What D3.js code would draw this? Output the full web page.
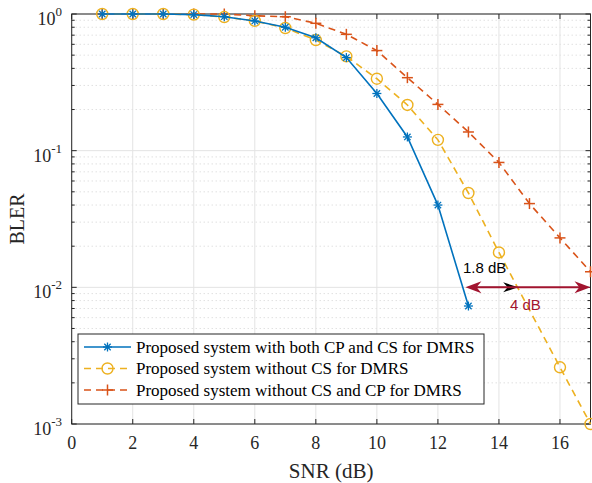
<!DOCTYPE html>
<head>
    <meta charset="utf-8">
    <script src="https://d3js.org/d3.v7.min.js"></script>
    <style>
        body { margin: 0; background: #fff; }
        text { font-family: "Liberation Serif", "Times New Roman", serif; fill: #262626; }
    </style>
</head>
<body>
    <svg width="592" height="483"></svg>
    <script>
        // data
        var snrBoth = [1, 2, 3, 4, 5, 6, 7, 8, 9, 10, 11, 12, 13];
        var blerBoth = [1, 1, 1, 0.99, 0.955, 0.89, 0.80, 0.67, 0.48, 0.262, 0.126, 0.040, 0.0073];
        var snrNoCS = [1, 2, 3, 4, 5, 6, 7, 8, 9, 10, 11, 12, 13, 14, 16, 17];
        var blerNoCS = [1, 1, 1, 0.99, 0.95, 0.89, 0.79, 0.645, 0.49, 0.336, 0.216, 0.12, 0.049, 0.018, 0.0026, 0.001];
        var snrNone = [1, 2, 3, 4, 5, 6, 7, 8, 9, 10, 11, 12, 13, 14, 15, 16, 17];
        var blerNone = [1, 1, 1, 1, 1, 0.97, 0.955, 0.855, 0.71, 0.54, 0.342, 0.218, 0.137, 0.082, 0.041, 0.023, 0.013];
        var legendNames = ["Proposed system with both CP and CS for DMRS",
            "Proposed system without CS for DMRS",
            "Proposed system without CS and CP for DMRS"];
        var xTicks = [0, 2, 4, 6, 8, 10, 12, 14, 16];
        var yTicks = [1, 0.1, 0.01, 0.001];
        var yExps = ["0", "-1", "-2", "-3"];
        // annotation: gaps at BLER = 1e-2
        var gapLevel = 0.01;
        var gapBlack = [13, 14.63];
        var gapRed = [13, 17];

        var svg = d3.select("svg");
        var pLeft = 71.7, pRight = 590.5, pTop = 14, pBottom = 424;
        var x = d3.scaleLinear().domain([0, 17]).range([pLeft, pRight]);
        var y = d3.scaleLog().domain([0.001, 1]).range([pBottom, pTop]);

        var blue = "#0072BD", yellow = "#EDB120", red = "#D95319", dark = "#A2142F";

        // grid
        var minor = [];
        [0.001, 0.01, 0.1].forEach(function (d) {
            for (var k = 2; k <= 9; k++) minor.push(d * k);
        });
        var grid = svg.append("g");
        grid.selectAll(".mg").data(minor).enter().append("line")
            .attr("x1", pLeft).attr("x2", pRight)
            .attr("y1", d => y(d)).attr("y2", d => y(d))
            .attr("stroke", "#c8c8c8").attr("stroke-width", 0.8)
            .attr("stroke-dasharray", "1,3");
        grid.selectAll(".xg").data(xTicks).enter().append("line")
            .attr("x1", d => x(d)).attr("x2", d => x(d))
            .attr("y1", pTop).attr("y2", pBottom)
            .attr("stroke", "#e3e3e3").attr("stroke-width", 1);
        grid.selectAll(".yg").data(yTicks).enter().append("line")
            .attr("x1", pLeft).attr("x2", pRight)
            .attr("y1", d => y(d)).attr("y2", d => y(d))
            .attr("stroke", "#e3e3e3").attr("stroke-width", 1);

        // axes box and ticks
        var ax = svg.append("g").attr("stroke", "#262626").attr("stroke-width", 1);
        ax.append("rect").attr("x", pLeft).attr("y", pTop)
            .attr("width", pRight - pLeft).attr("height", pBottom - pTop)
            .attr("fill", "none");
        xTicks.forEach(function (d) {
            ax.append("line").attr("x1", x(d)).attr("x2", x(d)).attr("y1", pBottom).attr("y2", pBottom - 5);
            ax.append("line").attr("x1", x(d)).attr("x2", x(d)).attr("y1", pTop).attr("y2", pTop + 5);
        });
        yTicks.forEach(function (d) {
            ax.append("line").attr("x1", pLeft).attr("x2", pLeft + 5).attr("y1", y(d)).attr("y2", y(d));
            ax.append("line").attr("x1", pRight).attr("x2", pRight - 5).attr("y1", y(d)).attr("y2", y(d));
        });
        minor.forEach(function (d) {
            ax.append("line").attr("x1", pLeft).attr("x2", pLeft + 3).attr("y1", y(d)).attr("y2", y(d));
            ax.append("line").attr("x1", pRight).attr("x2", pRight - 3).attr("y1", y(d)).attr("y2", y(d));
        });

        // tick labels
        svg.append("g").selectAll("text").data(xTicks).enter().append("text")
            .attr("x", d => x(d)).attr("y", 449)
            .attr("text-anchor", "middle").attr("font-size", 18)
            .text(d => d);
        var yl = svg.append("g").selectAll("text").data(yTicks).enter().append("text")
            .attr("x", 62).attr("y", d => y(d) + 11)
            .attr("text-anchor", "end").attr("font-size", 18);
        yl.append("tspan").text("10");
        yl.append("tspan").attr("dy", -9).attr("font-size", 13).text((d, i) => yExps[i]);

        svg.append("text").attr("x", (pLeft + pRight) / 2).attr("y", 478)
            .attr("text-anchor", "middle").attr("font-size", 21).text("SNR (dB)");
        svg.append("text").attr("transform", "translate(24,219) rotate(-90)")
            .attr("text-anchor", "middle").attr("font-size", 20).text("BLER");

        // curves
        var line = d3.line().x(d => x(d[0])).y(d => y(d[1]));

        function star(g, cx, cy, c) {
            var r = 4.5;
            for (var a = 0; a < 180; a += 45) {
                var t = a * Math.PI / 180;
                g.append("line").attr("x1", cx - r * Math.cos(t)).attr("y1", cy - r * Math.sin(t))
                    .attr("x2", cx + r * Math.cos(t)).attr("y2", cy + r * Math.sin(t))
                    .attr("stroke", c).attr("stroke-width", 1.3);
            }
        }
        function plus(g, cx, cy, c) {
            var r = 5.5;
            g.append("line").attr("x1", cx - r).attr("x2", cx + r).attr("y1", cy).attr("y2", cy)
                .attr("stroke", c).attr("stroke-width", 1.5);
            g.append("line").attr("x1", cx).attr("x2", cx).attr("y1", cy - r).attr("y2", cy + r)
                .attr("stroke", c).attr("stroke-width", 1.5);
        }
        function circ(g, cx, cy, c) {
            g.append("circle").attr("cx", cx).attr("cy", cy).attr("r", 5.5)
                .attr("fill", "none").attr("stroke", c).attr("stroke-width", 1.4);
        }

        var series = [
            { xs: snrNone, ys: blerNone, c: red, dash: "7,5", mk: plus },
            { xs: snrNoCS, ys: blerNoCS, c: yellow, dash: "7,5", mk: circ },
            { xs: snrBoth, ys: blerBoth, c: blue, dash: null, mk: star }
        ];
        var plot = svg.append("g");
        series.forEach(function (s) {
            var pts = d3.zip(s.xs, s.ys);
            plot.append("path").datum(pts).attr("d", line)
                .attr("fill", "none").attr("stroke", s.c).attr("stroke-width", 1.6)
                .attr("stroke-dasharray", s.dash);
            var g = plot.append("g");
            pts.forEach(p => s.mk(g, x(p[0]), y(p[1]), s.c));
        });

        // annotations
        function head(g, tipX, tipY, dir, len, wid, c) {
            var back = tipX - dir * len, notch = tipX - dir * len * 0.7;
            g.append("path")
                .attr("d", "M" + tipX + "," + tipY + "L" + back + "," + (tipY - wid / 2) +
                    "L" + notch + "," + tipY + "L" + back + "," + (tipY + wid / 2) + "Z")
                .attr("fill", c);
        }
        var ann = svg.append("g");
        var ly = y(gapLevel);
        ann.append("line").attr("x1", x(gapBlack[0])).attr("x2", x(gapBlack[1]) - 6)
            .attr("y1", ly).attr("y2", ly).attr("stroke", "#000").attr("stroke-width", 1);
        head(ann, x(gapBlack[1]), ly, 1, 15, 10, "#000");
        ann.append("line").attr("x1", x(gapRed[0]) + 8).attr("x2", x(gapRed[1]) - 8)
            .attr("y1", ly).attr("y2", ly).attr("stroke", dark).attr("stroke-width", 2);
        head(ann, x(gapRed[0]) - 3, ly, -1, 16, 12, dark);
        head(ann, x(gapRed[1]), ly, 1, 16, 12, dark);
        ann.append("text").attr("x", 463).attr("y", 273)
            .style("font-family", "'Liberation Sans', Arial, sans-serif").style("fill", "#000")
            .attr("font-size", 15).text("1.8 dB");
        ann.append("text").attr("x", 510).attr("y", 310)
            .style("font-family", "'Liberation Sans', Arial, sans-serif").style("fill", dark)
            .attr("font-size", 15).text("4 dB");

        // legend
        var lg = svg.append("g");
        lg.append("rect").attr("x", 78).attr("y", 334).attr("width", 406).attr("height", 70)
            .attr("fill", "#fff").attr("stroke", "#262626").attr("stroke-width", 1);
        var legY = [347, 368.5, 390];
        series.slice().reverse().forEach(function (s, i) {
            var yy = legY[i];
            lg.append("line").attr("x1", 84).attr("x2", 131).attr("y1", yy).attr("y2", yy)
                .attr("stroke", s.c).attr("stroke-width", 1.6).attr("stroke-dasharray", s.dash);
            s.mk(lg, 107.5, yy, s.c);
            lg.append("text").attr("x", 136).attr("y", yy + 5.5).attr("font-size", 17)
                .style("fill", "#000").text(legendNames[i]);
        });
    </script>
</body>
